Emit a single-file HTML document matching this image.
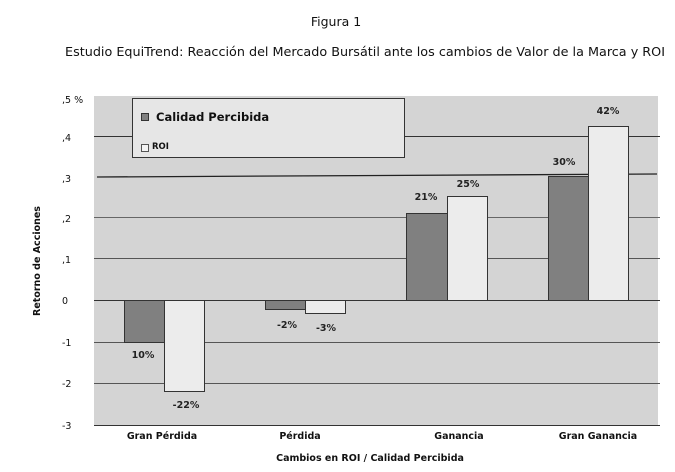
<!DOCTYPE html>
<html><head><meta charset="utf-8"><style>
body{margin:0;background:#fff;}
svg{display:block;font-family:"DejaVu Sans","Liberation Sans",sans-serif;}
</style></head><body>
<svg width="675" height="472" viewBox="0 0 675 472">
<text x="336" y="26" text-anchor="middle" font-size="12.5" fill="#111">Figura 1</text>
<text x="65" y="56" font-size="12.5" fill="#111" textLength="600" lengthAdjust="spacingAndGlyphs">Estudio EquiTrend: Reacción del Mercado Bursátil ante los cambios de Valor de la Marca y ROI</text>
<rect x="94" y="96" width="564" height="329" fill="#d4d4d4"/>
<g stroke="#333" stroke-width="1">
<line x1="94" y1="136.5" x2="660" y2="136.5"/>
<line x1="97" y1="177" x2="657" y2="174" stroke="#222" stroke-width="1.3"/>
<line x1="94" y1="217.5" x2="660" y2="217.5" stroke="#666"/>
<line x1="94" y1="258.5" x2="660" y2="258.5" stroke="#555"/>
<line x1="94" y1="300.5" x2="660" y2="300.5"/>
<line x1="94" y1="342.5" x2="660" y2="342.5" stroke="#555"/>
<line x1="94" y1="383.5" x2="660" y2="383.5" stroke="#555"/>
<line x1="94" y1="425.5" x2="660" y2="425.5"/>
</g>
<g font-size="9.5" fill="#111">
<text x="62" y="103">,5 %</text>
<text x="62" y="141">,4</text>
<text x="62" y="182">,3</text>
<text x="62" y="222">,2</text>
<text x="62" y="263">,1</text>
<text x="62" y="304">0</text>
<text x="62" y="346">-1</text>
<text x="62" y="387">-2</text>
<text x="62" y="429">-3</text>
</g>
<g stroke="#333" stroke-width="1">
<rect x="124.5" y="300.5" width="40" height="42" fill="#808080"/>
<rect x="164.5" y="300.5" width="40" height="91" fill="#ececec"/>
<rect x="265.5" y="300.5" width="40" height="9" fill="#808080"/>
<rect x="305.5" y="300.5" width="40" height="13" fill="#ececec"/>
<rect x="406.5" y="213.5" width="41" height="87" fill="#808080"/>
<rect x="447.5" y="196.5" width="40" height="104" fill="#ececec"/>
<rect x="548.5" y="176.5" width="40" height="124" fill="#808080"/>
<rect x="588.5" y="126.5" width="40" height="174" fill="#ececec"/>
</g>
<g font-size="9.5" font-weight="bold" fill="#222" text-anchor="middle">
<text x="143" y="358">10%</text>
<text x="186" y="408">-22%</text>
<text x="287" y="328">-2%</text>
<text x="326" y="331">-3%</text>
<text x="426" y="200">21%</text>
<text x="468" y="187">25%</text>
<text x="564" y="165">30%</text>
<text x="608" y="114">42%</text>
</g>
<rect x="132.5" y="98.5" width="272" height="59" fill="#e6e6e6" stroke="#333"/>
<rect x="141.5" y="113.5" width="7" height="7" fill="#808080" stroke="#333"/>
<text x="156" y="121" font-size="11.5" font-weight="bold" fill="#111">Calidad Percibida</text>
<rect x="141.5" y="144.5" width="7" height="7" fill="#f4f4f4" stroke="#555"/>
<text x="152" y="149" font-size="8.5" font-weight="bold" fill="#111">ROI</text>
<g font-size="9.5" font-weight="bold" fill="#111" text-anchor="middle">
<text x="162" y="439">Gran Pérdida</text>
<text x="300" y="439">Pérdida</text>
<text x="459" y="439">Ganancia</text>
<text x="598" y="439">Gran Ganancia</text>
<text x="370" y="461">Cambios en ROI / Calidad Percibida</text>
<text transform="translate(40,261) rotate(-90)">Retorno de Acciones</text>
</g>
</svg>
</body></html>
